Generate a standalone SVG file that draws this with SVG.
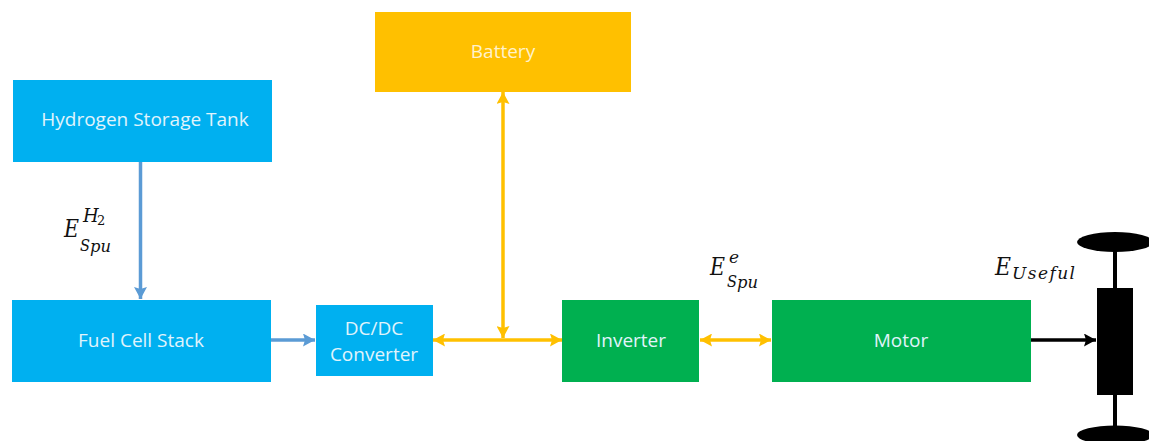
<svg xmlns="http://www.w3.org/2000/svg" width="1149" height="441" viewBox="0 0 1149 441">
<style>
.l{font-family:"Open Sans","Noto Sans","Liberation Sans",sans-serif;font-size:19px;font-weight:500;fill:#e0f4fc;text-anchor:middle}
.m{font-family:"DejaVu Serif","Liberation Serif",serif;font-style:italic;fill:#111}
.c{fill:none;stroke-width:3.500}
.b{stroke:#5b9bd5}.y{stroke:#ffc000}.k{stroke:#000}
</style>
<defs>
<marker id="ab" markerUnits="userSpaceOnUse" markerWidth="13" markerHeight="13" refX="12" refY="6.500" orient="auto-start-reverse"><path d="M0 0L12 6.500L0 13L2 6.500Z" fill="#5b9bd5"/></marker>
<marker id="ay" markerUnits="userSpaceOnUse" markerWidth="13" markerHeight="13" refX="12" refY="6.500" orient="auto-start-reverse"><path d="M0 0L12 6.500L0 13L2 6.500Z" fill="#ffc000"/></marker>
<marker id="ak" markerUnits="userSpaceOnUse" markerWidth="13" markerHeight="13" refX="12" refY="6.500" orient="auto-start-reverse"><path d="M0 0L12 6.500L0 13L2 6.500Z" fill="#000"/></marker>
</defs>
<g id="connectors">
<path class="c b" d="M140.500 162V299" marker-end="url(#ab)"/>
<path class="c b" d="M271 340H315" marker-end="url(#ab)"/>
<path class="c y" d="M433 340H562" marker-start="url(#ay)" marker-end="url(#ay)"/>
<path class="c y" d="M503 92V338" marker-start="url(#ay)" marker-end="url(#ay)"/>
<path class="c y" d="M700 340H771" marker-start="url(#ay)" marker-end="url(#ay)"/>
<path class="c k" d="M1031 340H1096" marker-end="url(#ak)"/>
</g>
<g id="battery"><rect x="375" y="12" width="256" height="80" fill="#ffc000"/><text class="l" x="503" y="58" style="fill:#fff2cc">Battery</text></g>
<g id="tank"><rect x="13" y="80" width="259" height="82" fill="#00b0f0"/><text class="l" x="145" y="126">Hydrogen Storage Tank</text></g>
<g id="fuelcell"><rect x="12" y="300" width="259" height="82" fill="#00b0f0"/><text class="l" x="141" y="347">Fuel Cell Stack</text></g>
<g id="dcdc"><rect x="316" y="305" width="117" height="71" fill="#00b0f0"/><text class="l" x="374" y="335">DC/DC</text><text class="l" x="374" y="361">Converter</text></g>
<g id="inverter"><rect x="562" y="300" width="137" height="82" fill="#00b050"/><text class="l" x="631" y="347">Inverter</text></g>
<g id="motor"><rect x="772" y="300" width="259" height="82" fill="#00b050"/><text class="l" x="901" y="347">Motor</text></g>
<g id="wheels" fill="#000">
<rect x="1113" y="245" width="4" height="190"/>
<rect x="1097" y="288" width="36" height="107"/>
<ellipse cx="1115" cy="242" rx="38" ry="10"/>
<ellipse cx="1115" cy="435" rx="38" ry="9.500"/>
</g>
<g id="label-h2"><text class="m" x="64" y="237" font-size="25" textLength="15" lengthAdjust="spacingAndGlyphs">E</text><text class="m" x="83" y="222" font-size="18">H</text><text class="m" x="97" y="225" font-size="13" style="font-style:normal">2</text><text class="m" x="80" y="251" font-size="17" textLength="10" lengthAdjust="spacingAndGlyphs">S</text><text class="m" x="90" y="252" font-size="17" textLength="21" lengthAdjust="spacingAndGlyphs">pu</text></g>
<g id="label-e"><text class="m" x="710" y="275" font-size="25" textLength="15" lengthAdjust="spacingAndGlyphs">E</text><text class="m" x="729" y="263" font-size="17">e</text><text class="m" x="727" y="287" font-size="17" textLength="10" lengthAdjust="spacingAndGlyphs">S</text><text class="m" x="737" y="288" font-size="17" textLength="21" lengthAdjust="spacingAndGlyphs">pu</text></g>
<g id="label-useful"><text class="m" x="995" y="275" font-size="25" textLength="16" lengthAdjust="spacingAndGlyphs">E</text><text class="m" x="1012" y="279" font-size="17" textLength="63" lengthAdjust="spacing">Useful</text></g>
</svg>
